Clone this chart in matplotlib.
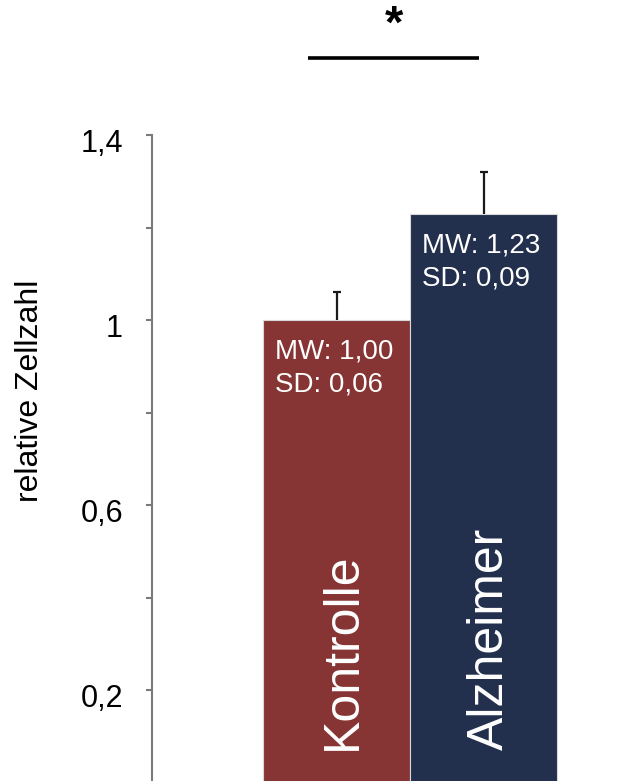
import matplotlib
matplotlib.use("Agg")
import matplotlib.pyplot as plt
from matplotlib.transforms import ScaledTranslation

plt.rcParams['font.family'] = ['Liberation Sans', 'DejaVu Sans']

# group data: mean relative cell count and SD
groups = ["Kontrolle", "Alzheimer"]
means = [1.00, 1.23]
sds = [0.06, 0.09]
mean_labels = ["MW: 1,00", "MW: 1,23"]
sd_labels = ["SD: 0,06", "SD: 0,09"]
colors = ["#863434", "#222F4D"]

yticks_major = [0.2, 0.6, 1.0, 1.4]
ytick_labels = ["0,2", "0,6", "1", "1,4"]
yticks_minor = [0.4, 0.8, 1.2]

fig = plt.figure(figsize=(6.21, 7.81), dpi=100)
ax = fig.add_axes([152 / 621, -0.002, 1 - 152 / 621, 0.829])

x = list(range(len(groups)))
ax.bar(x, means, width=1.0, color=colors, edgecolor="#d8d8d8", linewidth=0.8, zorder=2)
_, caps, _ = ax.errorbar(x, means, yerr=[[0] * len(sds), sds], fmt="none", ecolor="#1a1a1a",
                         elinewidth=1.6, capsize=3.2, capthick=1.6, zorder=3)
# only the upper whisker gets a cap
for cap in caps:
    if list(cap.get_ydata()) == means:
        cap.remove()

ax.set_xlim(-1.255, 1.935)
ax.set_ylim(0, 1.4)

# value labels inside the bars
for xi, m, ml, sl in zip(x, means, mean_labels, sd_labels):
    ax.text(xi - 0.418, m - 0.083, ml, color="white", fontsize=20, ha="left", va="baseline", zorder=4)
    ax.text(xi - 0.418, m - 0.155, sl, color="white", fontsize=20, ha="left", va="baseline", zorder=4)

# group names written vertically in the bars
for xi, name in zip(x, groups):
    ax.text(xi + 0.13, 0.07, name, color="white", fontsize=36, rotation=90,
            rotation_mode="anchor", ha="left", va="baseline", zorder=4)

# significance bracket
ax.plot([-0.194, 0.969], [1.567, 1.567], color="black", lw=2.6, clip_on=False,
        solid_capstyle="butt")
ax.text(0.39, 1.637, "*", fontsize=34, fontweight="bold", ha="center", va="center",
        clip_on=False)

for s in ["top", "right", "bottom"]:
    ax.spines[s].set_visible(False)
ax.spines["left"].set_color("#7a7a7a")
ax.spines["left"].set_linewidth(1.5)

ax.set_xticks([])
ax.set_yticks(yticks_major)
ax.set_yticklabels(ytick_labels)
ax.set_yticks(yticks_minor, minor=True)
ax.tick_params(axis="y", which="both", direction="out", length=4.3, width=1.5,
               color="#7a7a7a", labelsize=22, pad=16.5)

offset = ScaledTranslation(0, -5 / 100, fig.dpi_scale_trans)
for lbl in ax.get_yticklabels():
    lbl.set_transform(lbl.get_transform() + offset)

fig.text(30 / 621, 1 - 391 / 781, "relative Zellzahl", rotation=90, fontsize=23,
         ha="center", va="center")

fig.savefig("out.png", dpi=100)
